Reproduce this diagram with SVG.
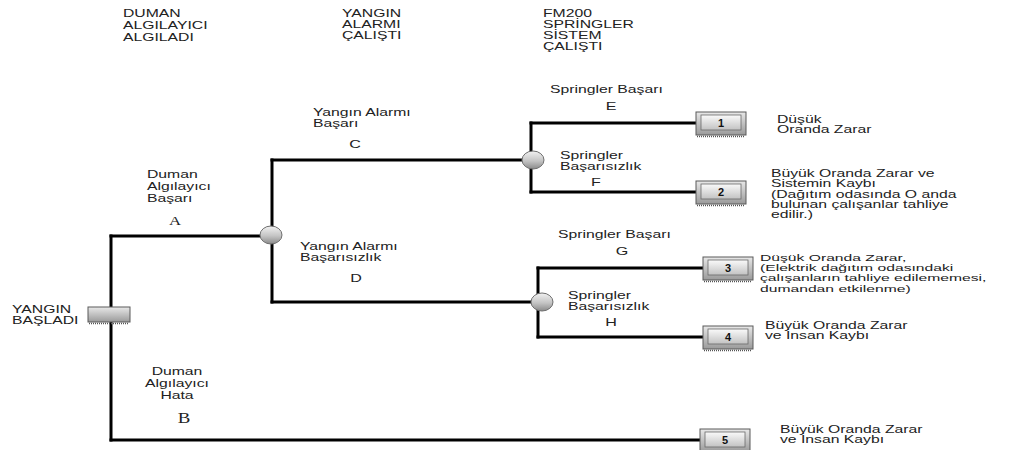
<svg xmlns="http://www.w3.org/2000/svg" width="1011" height="450" viewBox="0 0 1011 450">
<defs>
<linearGradient id="gNode" x1="0" y1="0" x2="0" y2="1">
<stop offset="0" stop-color="#f2f2f2"/>
<stop offset="0.55" stop-color="#c4c4c4"/>
<stop offset="1" stop-color="#8a8a8a"/>
</linearGradient>
<linearGradient id="gBox" x1="0" y1="0" x2="0" y2="1">
<stop offset="0" stop-color="#e8e8e8"/>
<stop offset="1" stop-color="#9a9a9a"/>
</linearGradient>
<linearGradient id="gInner" x1="0" y1="0" x2="0" y2="1">
<stop offset="0" stop-color="#fafafa"/>
<stop offset="1" stop-color="#c2c2c2"/>
</linearGradient>
</defs>
<style>
.t{font-family:"Liberation Sans",Arial,sans-serif;font-size:10.5px;fill:#222}
.t2{font-family:"Liberation Sans",Arial,sans-serif;font-size:9.8px;fill:#222}
.l{font-family:"Liberation Sans",Arial,sans-serif;font-size:11.5px;fill:#222}
.s{font-family:"Liberation Serif","Times New Roman",serif;fill:#222}
.n{font-family:"Liberation Sans",Arial,sans-serif;font-size:11px;font-weight:bold;fill:#111;text-anchor:middle}
.ln{stroke:#000;stroke-width:3;fill:none;stroke-linecap:square}
.node{fill:url(#gNode);stroke:#6e6e6e;stroke-width:1}
.bo{fill:url(#gBox);stroke:#5a5a5a;stroke-width:1}
.bi{fill:url(#gInner);stroke:#6a6a6a;stroke-width:0.8}
.hatch{stroke:#555;stroke-width:1.5;stroke-dasharray:1 1}
</style>
<rect width="1011" height="450" fill="#fff"/>

<g id="headers">
<text class="t" transform="translate(123,17) scale(1.5,1)"><tspan x="0" y="0">DUMAN</tspan><tspan x="0" y="12">ALGILAYICI</tspan><tspan x="0" y="24">ALGILADI</tspan></text>
<text class="t" transform="translate(342,17) scale(1.5,1)"><tspan x="0" y="0">YANGIN</tspan><tspan x="0" y="11">ALARMI</tspan><tspan x="0" y="22">ÇALIŞTI</tspan></text>
<text class="t" transform="translate(543,17) scale(1.5,1)"><tspan x="0" y="0">FM200</tspan><tspan x="0" y="11">SPRİNGLER</tspan><tspan x="0" y="22">SİSTEM</tspan><tspan x="0" y="33">ÇALIŞTI</tspan></text>
</g>

<g id="connectors">
<line class="ln" x1="111" y1="236" x2="111" y2="440"/>
<line class="ln" x1="111" y1="236" x2="268" y2="236"/>
<line class="ln" x1="272" y1="160" x2="272" y2="302"/>
<line class="ln" x1="272" y1="160" x2="530" y2="160"/>
<line class="ln" x1="272" y1="302" x2="540" y2="302"/>
<line class="ln" x1="531" y1="123" x2="531" y2="192"/>
<line class="ln" x1="531" y1="123" x2="696" y2="123"/>
<line class="ln" x1="531" y1="192" x2="696" y2="192"/>
<line class="ln" x1="538" y1="268" x2="538" y2="337"/>
<line class="ln" x1="538" y1="268" x2="703" y2="268"/>
<line class="ln" x1="538" y1="337" x2="703" y2="337"/>
<line class="ln" x1="111" y1="440" x2="700" y2="440"/>
</g>

<g id="start">
<rect class="bo" x="88" y="307" width="42" height="15"/>
<line class="hatch" x1="89" y1="323.5" x2="129" y2="323.5"/>
<text class="t" transform="translate(12,313) scale(1.5,1)"><tspan x="0" y="0">YANGIN</tspan><tspan x="0" y="11">BAŞLADI</tspan></text>
</g>

<g id="branch-A">
<text class="t" transform="translate(147,178) scale(1.5,1)"><tspan x="0" y="0">Duman</tspan><tspan x="0" y="12">Algılayıcı</tspan><tspan x="0" y="24">Başarı</tspan></text>
<text class="s" font-size="12" text-anchor="middle" transform="translate(175,225) scale(1.4,1)">A</text>
</g>

<g id="branch-B">
<text class="t" text-anchor="middle" transform="translate(177,375) scale(1.5,1)"><tspan x="0" y="0">Duman</tspan><tspan x="0" y="12">Algılayıcı</tspan><tspan x="0" y="24">Hata</tspan></text>
<text class="s" font-size="14" text-anchor="middle" transform="translate(184,423) scale(1.35,1)">B</text>
</g>

<g id="node-alarm">
<ellipse class="node" cx="271" cy="235" rx="11" ry="9"/>
<text class="t" transform="translate(313,116) scale(1.5,1)"><tspan x="0" y="0">Yangın Alarmı</tspan><tspan x="0" y="11">Başarı</tspan></text>
<text class="l" text-anchor="middle" transform="translate(355,148) scale(1.4,1)">C</text>
<text class="t" transform="translate(300,250) scale(1.5,1)"><tspan x="0" y="0">Yangın Alarmı</tspan><tspan x="0" y="11">Başarısızlık</tspan></text>
<text class="l" text-anchor="middle" transform="translate(356,282) scale(1.4,1)">D</text>
</g>

<g id="node-sprinkler-1">
<ellipse class="node" cx="533" cy="160" rx="11" ry="9"/>
<text class="t" transform="translate(550,93) scale(1.5,1)">Springler Başarı</text>
<text class="l" text-anchor="middle" transform="translate(611,110) scale(1.4,1)">E</text>
<text class="t" transform="translate(560,159) scale(1.5,1)"><tspan x="0" y="0">Springler</tspan><tspan x="0" y="11.5">Başarısızlık</tspan></text>
<text class="l" text-anchor="middle" transform="translate(596,186) scale(1.4,1)">F</text>
</g>

<g id="node-sprinkler-2">
<ellipse class="node" cx="542" cy="302" rx="11" ry="9"/>
<text class="t" transform="translate(558,238) scale(1.5,1)">Springler Başarı</text>
<text class="l" text-anchor="middle" transform="translate(622,255) scale(1.4,1)">G</text>
<text class="t" transform="translate(568,299) scale(1.5,1)"><tspan x="0" y="0">Springler</tspan><tspan x="0" y="11.5">Başarısızlık</tspan></text>
<text class="l" text-anchor="middle" transform="translate(611,326) scale(1.4,1)">H</text>
</g>

<g id="outcome-1">
<rect class="bo" x="696" y="112" width="50" height="23"/>
<rect class="bi" x="701" y="115" width="40" height="15"/>
<line class="hatch" x1="697" y1="136.5" x2="745" y2="136.5"/>
<text class="n" x="721" y="127">1</text>
<text class="t" transform="translate(777,123) scale(1.5,1)"><tspan x="0" y="0">Düşük</tspan><tspan x="0" y="10.5">Oranda Zarar</tspan></text>
</g>

<g id="outcome-2">
<rect class="bo" x="696" y="181" width="50" height="23"/>
<rect class="bi" x="701" y="184" width="40" height="15"/>
<line class="hatch" x1="697" y1="205.5" x2="745" y2="205.5"/>
<text class="n" x="721" y="196">2</text>
<text class="t" transform="translate(771,177) scale(1.5,1)"><tspan x="0" y="0">Büyük Oranda Zarar ve</tspan><tspan x="0" y="10.3">Sistemin Kaybı</tspan><tspan x="0" y="20.6">(Dağıtım odasında O anda</tspan><tspan x="0" y="30.9">bulunan çalışanlar tahliye</tspan><tspan x="0" y="41.2">edilir.)</tspan></text>
</g>

<g id="outcome-3">
<rect class="bo" x="703" y="257" width="50" height="23"/>
<rect class="bi" x="708" y="260" width="40" height="15"/>
<line class="hatch" x1="704" y1="281.5" x2="752" y2="281.5"/>
<text class="n" x="728" y="272">3</text>
<text class="t2" transform="translate(760,261) scale(1.6,1)"><tspan x="0" y="0">Düşük Oranda Zarar,</tspan><tspan x="0" y="10.2">(Elektrik dağıtım odasındaki</tspan><tspan x="0" y="20.4">çalışanların tahliye edilememesi,</tspan><tspan x="0" y="30.6">dumandan etkilenme)</tspan></text>
</g>

<g id="outcome-4">
<rect class="bo" x="703" y="326" width="50" height="23"/>
<rect class="bi" x="708" y="329" width="40" height="15"/>
<line class="hatch" x1="704" y1="350.5" x2="752" y2="350.5"/>
<text class="n" x="728" y="341">4</text>
<text class="t" transform="translate(765,329) scale(1.5,1)"><tspan x="0" y="0">Büyük Oranda Zarar</tspan><tspan x="0" y="10">ve İnsan Kaybı</tspan></text>
</g>

<g id="outcome-5">
<rect class="bo" x="700" y="429" width="50" height="23"/>
<rect class="bi" x="705" y="432" width="40" height="15"/>
<text class="n" x="725" y="444">5</text>
<text class="t" transform="translate(780,433) scale(1.5,1)"><tspan x="0" y="0">Büyük Oranda Zarar</tspan><tspan x="0" y="10">ve İnsan Kaybı</tspan></text>
</g>
</svg>
